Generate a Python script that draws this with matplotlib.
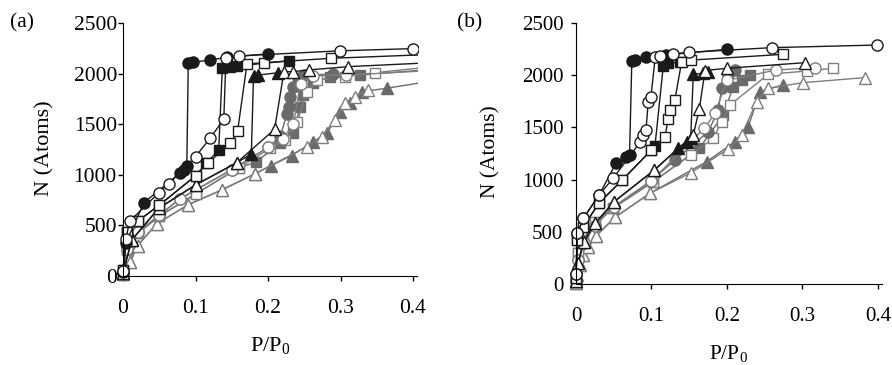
import matplotlib
matplotlib.use('Agg')
import matplotlib.pyplot as plt
import numpy as np

plt.rcParams['font.family'] = ['Liberation Serif', 'DejaVu Serif']

# ---- panel (a) data ----
a_bc_x = [0, 0.004, 0.029, 0.078, 0.084, 0.088, 0.09, 0.096, 0.12, 0.143, 0.2]
a_bc_y = [40, 330, 725, 1015, 1050, 1085, 2100, 2110, 2135, 2160, 2195]
a_oc_x = [0, 0.004, 0.009, 0.049, 0.063, 0.1, 0.12, 0.139, 0.142, 0.16, 0.299, 0.4]
a_oc_y = [50, 362, 540, 820, 910, 1180, 1360, 1550, 2150, 2175, 2225, 2247]
a_bs_x = [0, 0.005, 0.02, 0.05, 0.1, 0.115, 0.132, 0.137, 0.147, 0.157, 0.229]
a_bs_y = [60, 430, 540, 700, 990, 1115, 1245, 2055, 2070, 2075, 2127]
a_os_x = [0, 0.005, 0.02, 0.05, 0.1, 0.117, 0.148, 0.158, 0.171, 0.194, 0.2865, 0.45]
a_os_y = [60, 430, 540, 700, 990, 1115, 1310, 1430, 2095, 2108, 2151, 2196]
a_bt_x = [0, 0.012, 0.049, 0.1, 0.157, 0.177, 0.18, 0.186, 0.214]
a_bt_y = [30, 355, 668, 900, 1120, 1206, 1976, 1985, 2009]
a_ot_x = [0, 0.012, 0.049, 0.1, 0.157, 0.209, 0.222, 0.234, 0.256, 0.311, 0.45]
a_ot_y = [30, 355, 668, 900, 1120, 1449, 2019, 2019, 2036, 2069, 2116]
a_gc_x = [0, 0.005, 0.02, 0.05, 0.079, 0.15, 0.2, 0.217, 0.226, 0.229, 0.231, 0.235, 0.242, 0.25, 0.29]
a_gc_y = [30, 270, 430, 600, 765, 1050, 1270, 1380, 1600, 1673, 1772, 1871, 1953, 1985, 1995]
a_goc_x = [0, 0.005, 0.02, 0.05, 0.079, 0.15, 0.2, 0.22, 0.235, 0.245, 0.262, 0.308, 0.45]
a_goc_y = [30, 270, 430, 600, 765, 1050, 1270, 1350, 1500, 1900, 1980, 1985, 2040]
a_gs_x = [0, 0.005, 0.02, 0.05, 0.1, 0.16, 0.183, 0.2167, 0.235, 0.244, 0.2487, 0.2625, 0.2855, 0.327, 0.45]
a_gs_y = [30, 260, 420, 590, 810, 1070, 1125, 1311, 1410, 1673, 1788, 1904, 1970, 1986, 2055]
a_gos_x = [0, 0.005, 0.02, 0.05, 0.1, 0.16, 0.2028, 0.2234, 0.2405, 0.2533, 0.267, 0.306, 0.3476, 0.45]
a_gos_y = [30, 260, 420, 590, 810, 1070, 1262, 1344, 1525, 1821, 1937, 1970, 2009, 2085]
a_gt_x = [0, 0.01, 0.02, 0.0465, 0.09, 0.136, 0.182, 0.204, 0.2327, 0.2625, 0.281, 0.2993, 0.313, 0.329, 0.3637, 0.45]
a_gt_y = [20, 140, 300, 515, 705, 850, 1010, 1090, 1190, 1327, 1410, 1623, 1706, 1821, 1855, 1955]
a_got_x = [0, 0.01, 0.02, 0.0465, 0.09, 0.136, 0.182, 0.2534, 0.274, 0.2924, 0.306, 0.32, 0.3384]
a_got_y = [20, 140, 300, 515, 705, 850, 1010, 1278, 1377, 1541, 1706, 1772, 1838]

# ---- panel (b) data ----
b_bc_x = [0, 0.002, 0.0097, 0.0309, 0.053, 0.066, 0.071, 0.074, 0.078, 0.093, 0.119, 0.2004]
b_bc_y = [100, 485, 629, 855, 1160, 1220, 1240, 2140, 2146, 2171, 2194, 2248]
b_oc_x = [0, 0.002, 0.0097, 0.0309, 0.0494, 0.0848, 0.0883, 0.0927, 0.0958, 0.0993, 0.105, 0.111, 0.128, 0.15, 0.2592, 0.399]
b_oc_y = [100, 485, 629, 855, 1015, 1357, 1427, 1475, 1746, 1794, 2171, 2185, 2205, 2219, 2264, 2289]
b_bs_x = [0, 0.002, 0.0097, 0.0309, 0.0613, 0.1, 0.1046, 0.1157, 0.122, 0.1377]
b_bs_y = [60, 421, 549, 779, 996, 1284, 1320, 2091, 2114, 2124]
b_os_x = [0, 0.002, 0.0097, 0.0309, 0.0613, 0.1, 0.118, 0.122, 0.1245, 0.131, 0.14, 0.153, 0.2746]
b_os_y = [60, 421, 549, 779, 996, 1284, 1411, 1581, 1667, 1763, 2130, 2145, 2200]
b_bt_x = [0, 0.003, 0.01, 0.025, 0.0508, 0.1038, 0.1355, 0.1466, 0.152, 0.1554, 0.1686, 0.175]
b_bt_y = [30, 200, 400, 580, 790, 1092, 1300, 1363, 1400, 2009, 2018, 2030]
b_ot_x = [0, 0.003, 0.01, 0.025, 0.0508, 0.1038, 0.1554, 0.1633, 0.171, 0.1996, 0.3033]
b_ot_y = [30, 200, 400, 580, 790, 1092, 1427, 1673, 2045, 2066, 2120]
b_gc_x = [0, 0.003, 0.01, 0.025, 0.05, 0.1, 0.131, 0.1753, 0.1885, 0.193, 0.2018, 0.2106]
b_gc_y = [30, 230, 390, 560, 740, 990, 1188, 1459, 1667, 1875, 2002, 2050]
b_goc_x = [0, 0.003, 0.01, 0.025, 0.05, 0.1, 0.17, 0.1841, 0.2, 0.2649, 0.3166]
b_goc_y = [30, 230, 390, 560, 740, 990, 1491, 1635, 1950, 2050, 2072]
b_gs_x = [0, 0.003, 0.0097, 0.0252, 0.0486, 0.1024, 0.1634, 0.1951, 0.2084, 0.2194, 0.2305]
b_gs_y = [20, 294, 421, 597, 725, 980, 1300, 1619, 1890, 1954, 2002]
b_gos_x = [0, 0.003, 0.0097, 0.0252, 0.0486, 0.1024, 0.152, 0.1819, 0.193, 0.204, 0.2547, 0.3056, 0.3408]
b_gos_y = [20, 294, 421, 597, 725, 980, 1236, 1395, 1555, 1715, 2009, 2040, 2066]
b_gt_x = [0, 0.001, 0.0053, 0.0097, 0.0163, 0.0265, 0.0517, 0.098, 0.1731, 0.2106, 0.2282, 0.2437, 0.2737]
b_gt_y = [10, 86, 182, 278, 351, 460, 639, 869, 1172, 1363, 1507, 1842, 1906]
b_got_x = [0, 0.001, 0.0053, 0.0097, 0.0163, 0.0265, 0.0517, 0.098, 0.1523, 0.2017, 0.2194, 0.2393, 0.2547, 0.301, 0.3828]
b_got_y = [10, 86, 182, 278, 351, 460, 639, 869, 1066, 1293, 1427, 1747, 1875, 1929, 1977]

xtick_vals = [0, 0.1, 0.2, 0.3, 0.4]
xtick_labels = ['0', '0.1', '0.2', '0.3', '0.4']
ytick_vals = [0, 500, 1000, 1500, 2000, 2500]
ytick_labels = ['0', '500', '1000', '1500', '2000', '2500']

BLACK = '#1a1a1a'
GRAY = '#6a6a6a'
LGRAY = '#7d7d7d'

# marker, face, edge/line colour
styles = {
    'gc': ('o', GRAY, GRAY), 'goc': ('o', 'white', LGRAY),
    'gs': ('s', GRAY, GRAY), 'gos': ('s', 'white', LGRAY),
    'gt': ('^', GRAY, GRAY), 'got': ('^', 'white', LGRAY),
    'bc': ('o', BLACK, BLACK), 'oc': ('o', 'white', BLACK),
    'bs': ('s', BLACK, BLACK), 'os': ('s', 'white', BLACK),
    'bt': ('^', BLACK, BLACK), 'ot': ('^', 'white', BLACK),
}
# gray first, filled before open so shared low points show as open marks
order = ['gt', 'got', 'gs', 'gos', 'gc', 'goc', 'bt', 'ot', 'bs', 'os', 'bc', 'oc']

panel_a = {
    'bc': (a_bc_x, a_bc_y), 'oc': (a_oc_x, a_oc_y), 'bs': (a_bs_x, a_bs_y),
    'os': (a_os_x, a_os_y), 'bt': (a_bt_x, a_bt_y), 'ot': (a_ot_x, a_ot_y),
    'gc': (a_gc_x, a_gc_y), 'goc': (a_goc_x, a_goc_y), 'gs': (a_gs_x, a_gs_y),
    'gos': (a_gos_x, a_gos_y), 'gt': (a_gt_x, a_gt_y), 'got': (a_got_x, a_got_y),
}
panel_b = {
    'bc': (b_bc_x, b_bc_y), 'oc': (b_oc_x, b_oc_y), 'bs': (b_bs_x, b_bs_y),
    'os': (b_os_x, b_os_y), 'bt': (b_bt_x, b_bt_y), 'ot': (b_ot_x, b_ot_y),
    'gc': (b_gc_x, b_gc_y), 'goc': (b_goc_x, b_goc_y), 'gs': (b_gs_x, b_gs_y),
    'gos': (b_gos_x, b_gos_y), 'gt': (b_gt_x, b_gt_y), 'got': (b_got_x, b_got_y),
}

W, H = 892, 365
fig = plt.figure(figsize=(W / 100, H / 100), dpi=100)


def draw(ax, data, xmax, fs, ypad):
    for key in order:
        m, fc, ec = styles[key]
        x, y = data[key]
        ms = {'o': 8, 's': 7.5, '^': 8.5}[m]
        ax.plot(x, y, color=ec, lw=1.0, marker=m, ms=ms, mfc=fc, mec=ec, mew=1.0)
    ax.set_xlim(-0.012, xmax)
    ax.set_ylim(-80, 2500)
    for s in ['top', 'right']:
        ax.spines[s].set_visible(False)
    ax.spines['left'].set_position(('data', 0))
    ax.spines['bottom'].set_position(('data', 0))
    ax.spines['left'].set_bounds(0, 2500)
    ax.spines['bottom'].set_bounds(0, min(xmax, 0.406))
    ax.set_xticks(xtick_vals)
    ax.set_xticklabels(xtick_labels)
    ax.set_yticks(ytick_vals)
    ax.set_yticklabels(ytick_labels)
    ax.tick_params(axis='x', direction='out', length=3.6, width=1, labelsize=fs, pad=13)
    ax.tick_params(axis='y', direction='out', length=3.6, width=1, labelsize=fs, pad=ypad)
    ax.patch.set_visible(False)


ax_a = fig.add_axes([114.3 / W, 1 - 284.1 / H, 303.8 / W, 261.1 / H])
draw(ax_a, panel_a, 0.407, 15.5, 0.8)
ax_b = fig.add_axes([566.9 / W, 1 - 292.4 / H, 318.6 / W, 269.4 / H])
draw(ax_b, panel_b, 0.41, 15, 5.5)

fig.text(10 / W, 1 - 23 / H, '(a)', fontsize=15.5, va='center', ha='left')
fig.text(457 / W, 1 - 23 / H, '(b)', fontsize=15.5, va='center', ha='left')
fig.text(45 / W, 1 - 148 / H, 'N (Atoms)', fontsize=16, rotation=90, va='center', ha='center')
fig.text(491 / W, 1 - 152 / H, 'N (Atoms)', fontsize=15.5, rotation=90, va='center', ha='center')
fig.text(270 / W, 1 - 346 / H, r'$\mathregular{P/P_0}$', fontsize=16, va='center', ha='center')
fig.text(729 / W, 1 - 354 / H, r'$\mathregular{P/P_0}$', fontsize=15.5, va='center', ha='center')

fig.savefig('out.png', dpi=100)
